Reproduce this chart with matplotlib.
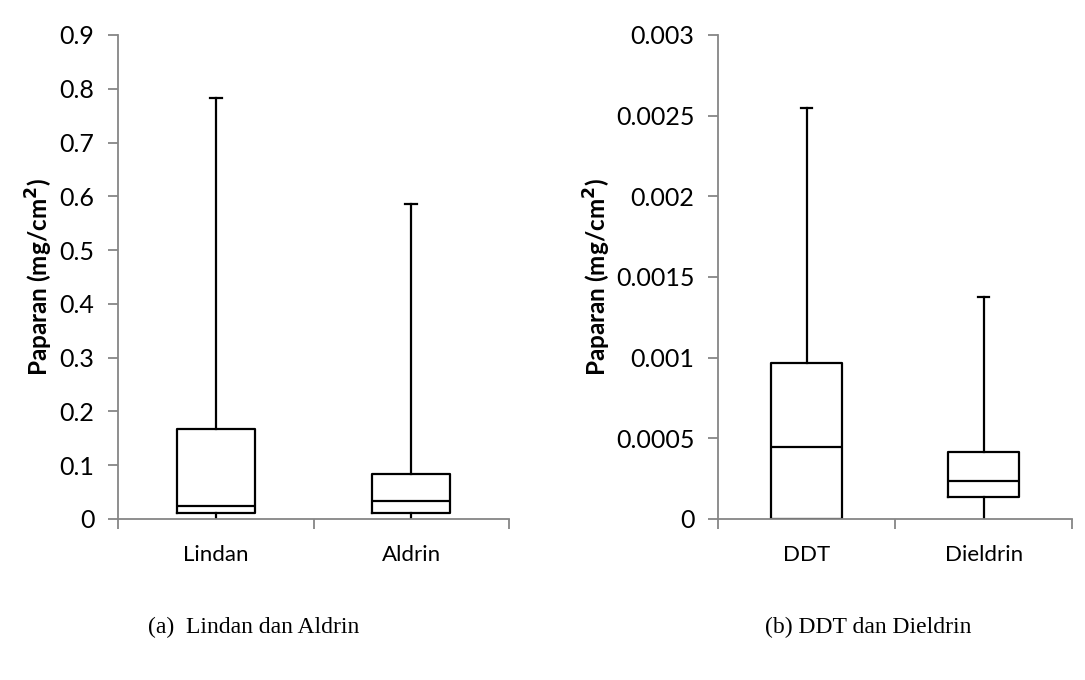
import matplotlib
matplotlib.use('Agg')
import matplotlib.pyplot as plt

plt.rcParams['font.family'] = ['Lato', 'DejaVu Sans']

# data
names_a = ['Lindan', 'Aldrin']
min_a = [0.0, 0.0]
q1_a = [0.0117, 0.0106]
med_a = [0.0236, 0.0329]
q3_a = [0.1668, 0.0837]
max_a = [0.7834, 0.5852]

names_b = ['DDT', 'Dieldrin']
min_b = [0.0, 0.0]
q1_b = [0.0, 0.000134]
med_b = [0.000446, 0.000237]
q3_b = [0.000965, 0.000413]
max_b = [0.00255, 0.001376]

ticks_a = [0, 0.1, 0.2, 0.3, 0.4, 0.5, 0.6, 0.7, 0.8, 0.9]
ticklabels_a = ['0', '0.1', '0.2', '0.3', '0.4', '0.5', '0.6', '0.7', '0.8', '0.9']
ticks_b = [0, 0.0005, 0.001, 0.0015, 0.002, 0.0025, 0.003]
ticklabels_b = ['0', '0.0005', '0.001', '0.0015', '0.002', '0.0025', '0.003']

grey = '#868686'

fig = plt.figure(figsize=(10.85, 6.8), dpi=100)
ax1 = fig.add_axes([0.1088, 0.2368, 0.3604, 0.7118])
ax2 = fig.add_axes([0.6618, 0.2368, 0.3263, 0.7118])


def draw(ax, names, mins, q1, med, q3, maxs, ticks, ticklabels, labelx):
    stats = []
    for i in range(len(names)):
        stats.append({'whislo': mins[i], 'q1': q1[i], 'med': med[i],
                      'q3': q3[i], 'whishi': maxs[i], 'label': names[i]})
    pos = [i + 0.5 for i in range(len(names))]
    res = ax.bxp(stats, positions=pos, widths=0.4, showfliers=False,
                 boxprops=dict(color='black', linewidth=1.6),
                 medianprops=dict(color='black', linewidth=1.6),
                 whiskerprops=dict(color='black', linewidth=1.6),
                 capprops=dict(color='black', linewidth=1.6),
                 capwidths=0.06)
    # lower caps sit on the axis and are not seen
    for c in res['caps'][0::2]:
        c.set_visible(False)
    ax.set_xlim(0, len(names))
    ax.set_ylim(ticks[0], ticks[-1])
    ax.set_yticks(ticks)
    ax.set_yticklabels(ticklabels, fontsize=18)
    ax.set_xticks(pos)
    ax.set_xticklabels(names, fontsize=16)
    ax.set_xticks(range(len(names) + 1), minor=True)
    ax.tick_params(axis='x', which='major', length=0, pad=19)
    ax.tick_params(axis='x', which='minor', length=7, direction='out', color=grey, width=1.3)
    ax.tick_params(axis='y', length=7, direction='out', color=grey, width=1.3, pad=10)
    ax.spines['top'].set_visible(False)
    ax.spines['right'].set_visible(False)
    for s in ['left', 'bottom']:
        ax.spines[s].set_color(grey)
        ax.spines[s].set_linewidth(1.3)
    ax.set_ylabel('Paparan (mg/cm$^\\mathbf{2}$)', fontsize=17.5, fontweight='bold')
    ax.yaxis.set_label_coords(labelx, 0.5)


draw(ax1, names_a, min_a, q1_a, med_a, q3_a, max_a, ticks_a, ticklabels_a, -0.16)
draw(ax2, names_b, min_b, q1_b, med_b, q3_b, max_b, ticks_b, ticklabels_b, -0.297)

fig.text(254 / 1085, 1 - 627 / 680, '(a)  Lindan dan Aldrin', family='Liberation Serif',
         fontsize=17, ha='center', va='center')
fig.text(868 / 1085, 1 - 627 / 680, '(b) DDT dan Dieldrin', family='Liberation Serif',
         fontsize=17, ha='center', va='center')

fig.savefig('out.png', dpi=100)
